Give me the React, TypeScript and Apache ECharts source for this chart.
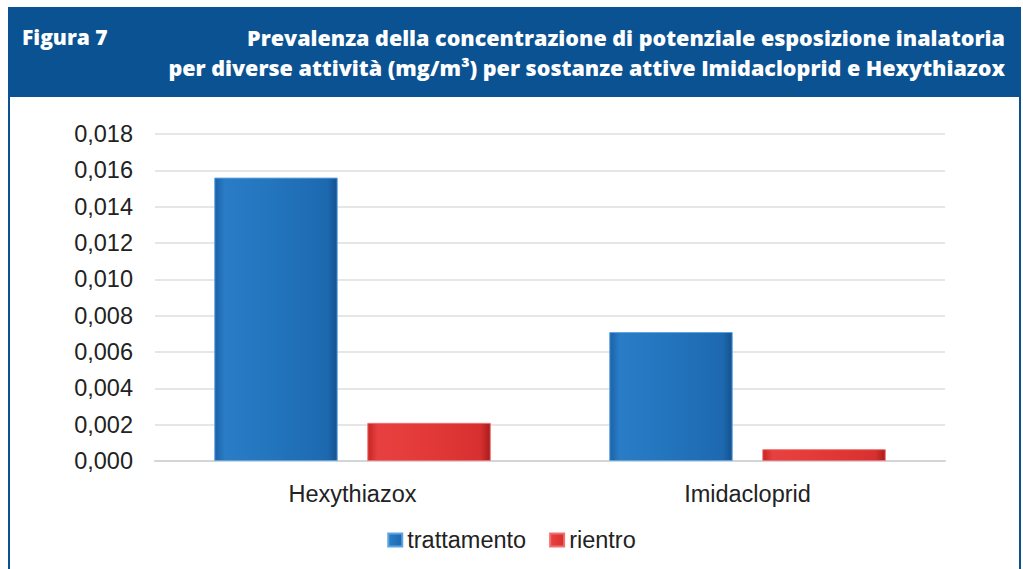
import React, { useEffect, useRef } from "react";
import * as echarts from "echarts";

const categories = ["Hexythiazox", "Imidacloprid"];
const trattamento = [0.0156, 0.0071];
const rientro = [0.0021, 0.00065];
const seriesNames = ["trattamento", "rientro"];
const titleFig = "Figura 7";
const titleLine1 = "Prevalenza della concentrazione di potenziale esposizione inalatoria";
const titleLine2 = "per diverse attività (mg/m³) per sostanze attive Imidacloprid e Hexythiazox";

const blueGrad = new echarts.graphic.LinearGradient(0, 0, 1, 0, [
  { offset: 0, color: "#1a62a8" },
  { offset: 0.08, color: "#2a7cc6" },
  { offset: 0.5, color: "#2274bd" },
  { offset: 0.92, color: "#1d69b0" },
  { offset: 1, color: "#155290" },
]);
const redGrad = new echarts.graphic.LinearGradient(0, 0, 1, 0, [
  { offset: 0, color: "#c72424" },
  { offset: 0.08, color: "#e84040" },
  { offset: 0.5, color: "#e23838" },
  { offset: 0.92, color: "#d83030" },
  { offset: 1, color: "#a81c1c" },
]);

const FONT = "'Liberation Sans', Arial";

export default function App() {
  const ref = useRef<HTMLDivElement>(null);
  useEffect(() => {
    const chart = echarts.init(ref.current!, undefined, { renderer: "svg" });
    chart.setOption({
      animation: false,
      backgroundColor: "#ffffff",
      graphic: [
        { type: "rect", shape: { x: 8, y: 7, width: 1013, height: 90 }, style: { fill: "#0a5291" } },
        { type: "rect", shape: { x: 8, y: 97, width: 2, height: 472 }, style: { fill: "#0a5291" } },
        { type: "rect", shape: { x: 1019, y: 97, width: 2, height: 472 }, style: { fill: "#0a5291" } },
        {
          type: "text",
          left: 22,
          top: 26,
          style: { text: titleFig, fill: "#ffffff", font: "800 21px 'Open Sans'" },
        },
        {
          type: "text",
          right: 18,
          top: 26,
          style: { text: titleLine1, fill: "#ffffff", font: "800 21.5px 'Open Sans'", align: "right" },
        },
        {
          type: "text",
          right: 18,
          top: 56,
          style: { text: titleLine2, fill: "#ffffff", font: "800 21.5px 'Open Sans'", align: "right" },
        },
      ],
      legend: {
        bottom: 12,
        left: "center",
        itemWidth: 14,
        itemHeight: 13,
        itemGap: 23,
        icon: "rect",
        textStyle: { fontFamily: FONT, fontSize: 23.5, color: "#222222" },
        data: seriesNames,
      },
      grid: { left: 155, right: 78, top: 134, bottom: 108 },
      xAxis: {
        type: "category",
        data: categories,
        axisLine: { lineStyle: { color: "#d3d6d6", width: 2 } },
        axisTick: { show: false },
        axisLabel: { fontFamily: FONT, fontSize: 23.5, color: "#222222", margin: 21 },
      },
      yAxis: {
        type: "value",
        min: 0,
        max: 0.018,
        interval: 0.002,
        axisLine: { show: false },
        axisTick: { show: false },
        splitLine: { lineStyle: { color: "#dcdede", width: 1.5 } },
        axisLabel: {
          fontFamily: FONT,
          fontSize: 23.5,
          color: "#222222",
          margin: 22,
          formatter: (v: number) => v.toFixed(3).replace(".", ","),
        },
      },
      series: [
        {
          name: seriesNames[0],
          type: "bar",
          data: trattamento,
          barCategoryGap: "30%",
          barGap: "24%",
          itemStyle: { color: blueGrad, borderColor: "#5fa3df", borderWidth: 1 },
        },
        {
          name: seriesNames[1],
          type: "bar",
          data: rientro,
          itemStyle: { color: redGrad, borderColor: "#f07070", borderWidth: 1 },
        },
      ],
    });
    return () => chart.dispose();
  }, []);
  return <div ref={ref} style={{ position: "absolute", left: 0, top: 0, width: 1023, height: 569 }} />;
}
